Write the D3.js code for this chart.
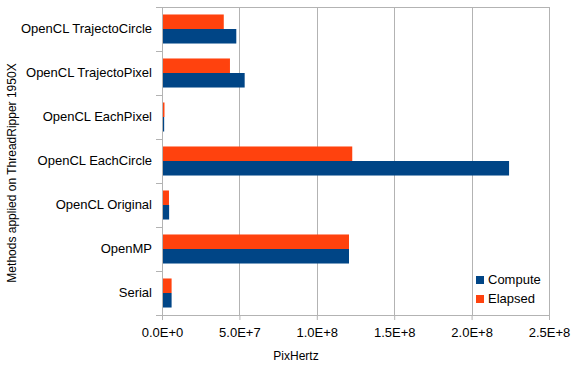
<!doctype html>
<html>
<head>
<meta charset="utf-8">
<title>PixHertz</title>
<style>
    body { margin: 0; background: #fff; }
    svg { display: block; font-family: "Liberation Sans", Arial, sans-serif; }
    .grid line { stroke: #b3b3b3; stroke-width: 1px; }
    .axis text { fill: #000; font-size: 13px; }
    .axis path, .axis line { stroke: #b3b3b3; }
</style>
</head>
<body>
<svg id="plot" width="576" height="384"></svg>
<script src="https://d3js.org/d3.v7.min.js"></script>
<script>
// methods, top to bottom as drawn
const methods = ["OpenCL TrajectoCircle", "OpenCL TrajectoPixel", "OpenCL EachPixel",
                 "OpenCL EachCircle", "OpenCL Original", "OpenMP", "Serial"];
const compute = [4.8e7, 5.34e7, 1.4e6, 2.242e8, 4.6e6, 1.208e8, 6.2e6];
const elapsed = [3.99e7, 4.39e7, 1.6e6, 1.229e8, 4.5e6, 1.208e8, 6.2e6];
const xTicks = [0, 5e7, 1e8, 1.5e8, 2e8, 2.5e8];
const xTickLabels = ["0.0E+0", "5.0E+7", "1.0E+8", "1.5E+8", "2.0E+8", "2.5E+8"];
const seriesNames = ["Compute", "Elapsed"];
const colors = ["#004586", "#ff420e"];

let svg = d3.select("svg"),
    margin = {top: 7, right: 27, bottom: 69, left: 162},
    width = +svg.attr("width") - margin.left - margin.right,
    height = +svg.attr("height") - margin.top - margin.bottom,
    g = svg.append("g").attr("transform", "translate(" + margin.left + "," + margin.top + ")");

let x = d3.scaleLinear().domain([0, 2.5e8]).range([0, width]);
let y = d3.scaleBand().domain(methods).range([0, height]).paddingInner(0.34).paddingOuter(0.17);
let sub = d3.scaleBand().domain(["Elapsed", "Compute"]).range([0, y.bandwidth()]);

// vertical grid
g.append("g").attr("class", "grid")
    .selectAll("line").data(xTicks).enter().append("line")
    .attr("x1", d => Math.round(x(d)) + 0.5).attr("x2", d => Math.round(x(d)) + 0.5)
    .attr("y1", 0).attr("y2", height);
// top border
g.append("line").attr("x1", 0).attr("x2", width).attr("y1", 0.5).attr("y2", 0.5)
    .attr("stroke", "#b3b3b3");

// bars
const rows = methods.map((m, i) => ({m: m, Compute: compute[i], Elapsed: elapsed[i]}));
seriesNames.forEach((s, si) => {
    g.append("g").selectAll("rect").data(rows).enter().append("rect")
        .attr("x", x(0))
        .attr("y", d => y(d.m) + sub(s))
        .attr("width", d => x(d[s]) - x(0))
        .attr("height", sub.bandwidth())
        .attr("fill", colors[si]);
});

// x axis
let xAxis = g.append("g").attr("class", "axis")
    .attr("transform", "translate(0," + height + ")")
    .call(d3.axisBottom(x).tickValues(xTicks).tickFormat((d, i) => xTickLabels[i])
        .tickSizeInner(5).tickSizeOuter(0).tickPadding(8));
xAxis.select(".domain").remove();
g.append("line").attr("x1", 0).attr("x2", width).attr("y1", height + 0.5).attr("y2", height + 0.5)
    .attr("stroke", "#b3b3b3");

// y axis with ticks on band boundaries
let yAxis = g.append("g").attr("class", "axis")
    .call(d3.axisLeft(y).tickSize(0).tickPadding(10));
yAxis.select(".domain").attr("stroke", "#b3b3b3");
const bounds = methods.map(m => y(m) - y.step() * y.paddingOuter()).concat([height]);
g.append("g").selectAll("line").data(bounds).enter().append("line")
    .attr("x1", -6).attr("x2", 0)
    .attr("y1", d => Math.round(d) + 0.5).attr("y2", d => Math.round(d) + 0.5)
    .attr("stroke", "#b3b3b3");

// axis titles
svg.append("text").attr("x", 296).attr("y", 360).attr("text-anchor", "middle")
    .attr("font-size", 12).text("PixHertz");
svg.append("text").attr("transform", "translate(16,173) rotate(-90)")
    .attr("text-anchor", "middle").attr("font-size", 12)
    .text("Methods applied on ThreadRipper 1950X");

// legend
let legend = svg.append("g").attr("transform", "translate(476,276)");
seriesNames.forEach((s, i) => {
    legend.append("rect").attr("x", 0).attr("y", i * 19).attr("width", 8).attr("height", 8)
        .attr("fill", colors[i]);
    legend.append("text").attr("x", 12).attr("y", i * 19 + 8).attr("font-size", 13).text(s);
});
</script>
</body>
</html>
